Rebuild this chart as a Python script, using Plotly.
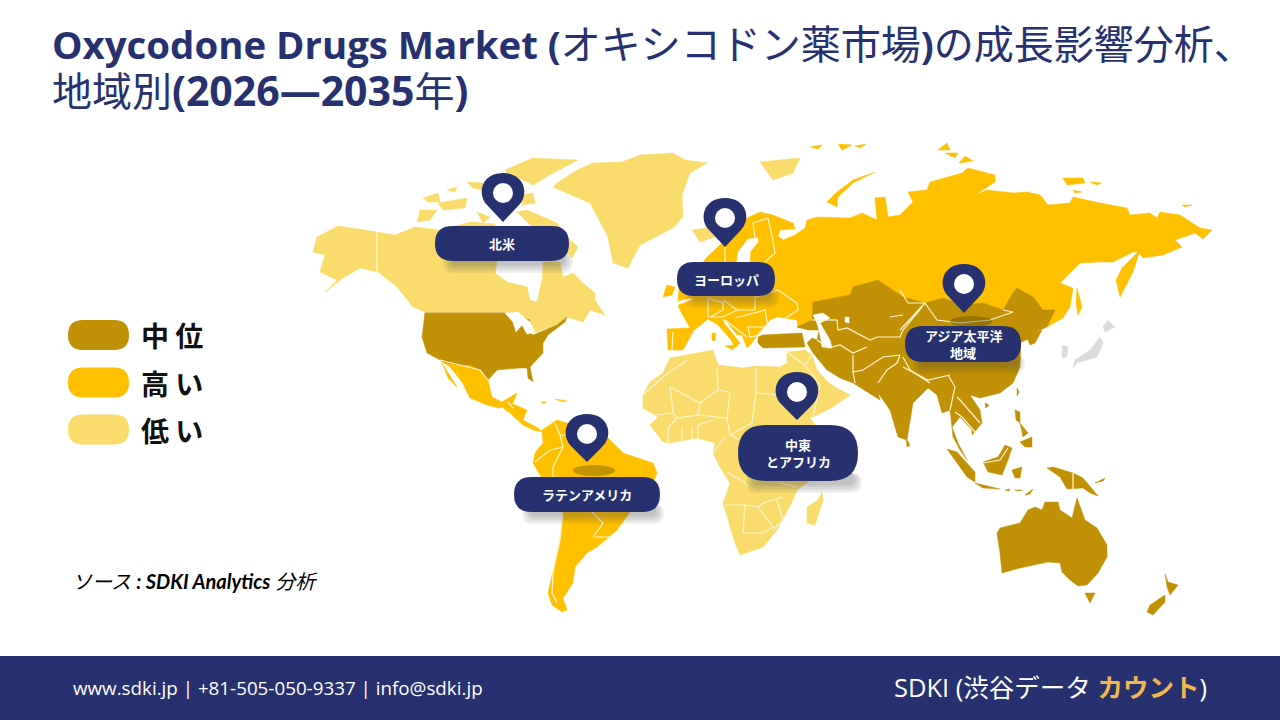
import plotly.graph_objects as go

# outlines, in picture units (x right, y down)
alaska = [(313,252),(317,237),(338,226),(377,232),(377,272),(360,268),(343,278),(325,292),(337,280),(320,272),(325,255)]
canada = [(377,232),(395,235),(415,227),(440,230),(470,222),(495,224),(497,262),(495,273),(507,282),(527,287),(530,300),(537,302),
          (542,280),(543,262),(560,262),(563,277),(573,273),(583,283),(595,293),(595,300),(605,315),(590,310),(583,322),(567,317),
          (557,325),(533,333),(527,330),(530,320),(513,312),(500,312),(425,312),(413,307),(397,287),(378,272)]
arctic_1 = [(423,198),(438,193),(440,202),(428,202)]
arctic_2 = [(438,203),(467,198),(465,208),(443,210)]
arctic_3 = [(447,190),(457,187),(455,192)]
arctic_4 = [(467,182),(483,183),(482,190),(473,188)]
arctic_5 = [(417,222),(420,210),(437,210),(430,220)]
arctic_6 = [(477,212),(490,217),(483,223)]
arctic_7 = [(520,195),(533,193),(535,203),(522,205)]
ellesmere = [(505,170),(533,158),(578,160),(553,173),(533,185),(523,180),(507,173)]
baffin = [(517,212),(527,210),(557,223),(570,240),(578,247),(572,258),(565,250),(550,232),(530,225)]
greenland = [(553,187),(557,183),(577,170),(593,163),(622,162),(640,155),(673,153),(685,160),(707,163),(690,173),(682,195),(683,217),
             (673,228),(640,245),(628,268),(613,263),(608,237),(597,217),(590,203)]
iceland = [(692,230),(707,228),(715,237),(700,242)]
svalbard = [(760,162),(800,158),(793,173),(773,180)]
africa = [(643,395),(650,382),(663,373),(670,358),(713,350),(718,365),(743,368),(756,366),(780,367),(787,363),(790,375),(800,405),(815,425),
          (840,432),(825,470),(797,490),(793,500),(782,520),(777,530),(763,547),(740,555),(735,543),(723,503),(730,483),(720,467),(713,453),
          (715,443),(697,438),(670,443),(663,442),(650,425),(658,417),(643,408)]
madagascar = [(822,492),(823,500),(815,525),(807,523),(807,507),(818,500)]
arabia = [(787,352),(805,350),(812,355),(817,370),(828,382),(835,387),(850,395),(833,407),(813,417),(805,418),(797,393),(787,373)]

russia_europe = [(703,262),(707,257),(720,245),(743,220),(760,212),(773,215),(793,223),(795,229),(780,230),(778,236),(783,240),(795,235),
                 (805,228),(807,220),(817,217),(850,218),(862,213),(877,220),(875,198),(885,197),(888,217),(900,215),(913,202),(908,192),
                 (927,190),(930,182),(962,173),(968,168),(995,175),(995,182),(975,195),(987,190),(1013,193),(1027,192),(1040,195),(1048,205),
                 (1070,203),(1073,197),(1100,203),(1127,208),(1130,215),(1150,213),(1157,218),(1160,212),(1180,215),(1200,228),(1212,230),
                 (1203,239),(1195,233),(1183,237),(1175,240),(1182,247),(1163,255),(1143,258),(1138,252),(1133,252),(1113,262),(1100,262),
                 (1080,263),(1060,283),(1073,288),(1070,307),(1063,318),(1047,327),(1040,320),(850,310),(820,315),(815,325),(798,328),(797,320),
                 (777,317),(770,320),(763,328),(757,335),(752,343),(747,348),(742,335),(737,335),(727,322),(722,318),(724,323),(735,337),(740,343),
                 (735,348),(731,340),(718,325),(708,319),(697,328),(694,330),(683,350),(668,350),(667,329),(690,328),(680,310),(678,305),(692,300),
                 (690,285),(700,270)]
uk = [(680,270),(695,270),(695,297),(678,301)]
ireland = [(663,297),(667,285),(675,287),(672,295)]
sardinia = [(712,333),(716,333),(715,341),(712,340)]
sicily = [(725,346),(735,345),(733,350)]
novaya_zemlya = [(875,172),(853,180),(837,192),(827,202),(837,207),(838,197),(853,183)]
severnaya_1 = [(938,150),(947,143),(950,150)]
severnaya_2 = [(945,153),(958,153),(955,158)]
severnaya_3 = [(959,163),(965,156),(973,161)]
franz_josef_1 = [(810,147),(822,145),(818,149)]
franz_josef_2 = [(838,144),(852,145),(842,150)]
franz_josef_3 = [(855,146),(866,144),(860,148)]
siberia_isle_1 = [(1063,178),(1083,178),(1085,183),(1067,185)]
siberia_isle_2 = [(1090,182),(1102,183),(1097,185)]
siberia_isle_3 = [(1073,190),(1082,192),(1075,193)]
wrangel = [(1182,205),(1192,205),(1185,207)]
kamchatka = [(1140,250),(1133,272),(1120,297),(1116,280),(1122,268)]
sakhalin = [(1077,288),(1082,307),(1078,315),(1076,303)]
mexico = [(440,360),(460,365),(470,365),(480,370),(488,380),(492,397),(502,402),(517,393),(513,403),(505,407),(498,408),(487,405),(470,398),(462,382),(450,367)]
baja = [(442,363),(457,387),(448,378)]
central_america = [(503,408),(508,402),(527,410),(523,420),(538,428),(542,432),(533,430),(523,425),(510,413)]
south_america = [(542,430),(557,420),(567,423),(607,437),(623,453),(653,463),(657,473),(650,490),(630,512),(617,530),(597,547),(587,553),(575,567),
                 (573,583),(563,598),(567,610),(562,612),(552,605),(548,593),(553,570),(560,540),(563,513),(553,497),(533,463),(535,453),(543,443)]
cuba = [(555,399),(567,401),(563,402)]
hispaniola = [(541,402),(546,402),(544,404)]

usa = [(425,312),(500,312),(513,312),(530,320),(527,330),(533,335),(557,325),(567,317),(565,322),(548,335),(543,343),(543,353),(530,367),(533,382),(528,378),
       (527,368),(520,368),(497,370),(488,380),(480,370),(470,365),(460,365),(443,362),(440,360),(427,353),(422,337),(424,320)]
central_asia = [(813,302),(850,295),(853,287),(878,280),(903,297),(925,303),(943,298),(963,305),(983,303),(1003,310),(1013,293),(1017,288),(1033,297),(1043,310),
                (1055,310),(1047,327),(1035,332),(1042,330),(1035,343),(1030,345),(1028,340),(1021,343),(1020,367),(1013,383),(1000,393),(980,398),(970,395),(980,410),
                (982,423),(972,435),(972,430),(960,417),(952,427),(958,443),(967,460),(960,450),(953,437),(950,410),(942,413),(937,395),(928,388),(913,403),(907,440),
                (898,437),(890,410),(878,393),(880,400),(853,383),(840,378),(827,370),(813,353),(807,343),(812,338),(817,340),(819,330),(808,330),(797,327),(812,320)]
turkey = [(758,337),(762,335),(802,333),(805,347),(763,348),(758,343)]
sri_lanka = [(906,438),(910,445),(907,447)]
sumatra = [(947,449),(957,452),(975,472),(975,482),(967,477)]
java = [(975,483),(1000,489),(983,488)]
borneo = [(983,462),(998,457),(1005,445),(1012,448),(1008,460),(1002,475),(988,472)]
sulawesi = [(1012,470),(1022,467),(1020,478),(1015,478)]
luzon = [(1015,410),(1020,412),(1020,423),(1016,420)]
mindanao = [(1020,442),(1032,437),(1032,447),(1025,447)]
visayas = [(1020,423),(1028,433),(1023,437)]
taiwan = [(1017,388),(1019,392),(1017,396)]
hainan = [(985,403),(989,405),(986,408)]
new_guinea = [(1047,468),(1053,467),(1063,470),(1073,473),(1083,478),(1098,496),(1090,493),(1083,488),(1067,489),(1060,477)]
new_britain = [(1095,483),(1105,478),(1103,481)]
sunda_1 = [(1005,490),(1010,489),(1009,491)]
sunda_2 = [(1015,490),(1022,490),(1019,491)]
sunda_3 = [(1025,495),(1033,489),(1030,494)]
australia = [(997,533),(1000,528),(1020,523),(1028,510),(1035,507),(1042,510),(1045,502),(1058,502),(1060,510),(1072,518),(1077,498),(1085,520),(1097,528),
             (1107,545),(1107,557),(1098,573),(1087,585),(1078,586),(1070,580),(1062,572),(1060,563),(1048,562),(1020,568),(1002,573),(1000,553)]
tasmania = [(1085,593),(1095,593),(1090,603)]
nz_south = [(1165,595),(1165,602),(1153,615),(1147,612),(1150,605)]
nz_north = [(1165,574),(1168,582),(1178,585),(1170,595),(1167,587)]

honshu = [(1100,337),(1103,343),(1097,357),(1077,363),(1073,368),(1075,360),(1090,350),(1098,340)]
hokkaido = [(1103,327),(1108,320),(1115,327),(1105,332)]
south_korea = [(1062,345),(1068,347),(1067,357),(1062,358)]

baltic = [(758,238),(748,239),(738,252),(737,262),(745,275),(750,262),(750,252),(758,242)]
caspian = [(813,315),(823,313),(830,318),(820,323),(830,340),(832,348),(822,347),(820,335),(817,323)]
aral = [(845,317),(849,317),(849,323),(845,322)]
great_lakes = [(505,313),(518,312),(530,322),(535,332),(527,334),(522,325),(516,332),(513,322)]

low_land = [alaska, canada, arctic_1, arctic_2, arctic_3, arctic_4, arctic_5, arctic_6, arctic_7, ellesmere, baffin, greenland,
            iceland, svalbard, africa, madagascar, arabia]
high_land = [russia_europe, uk, ireland, sardinia, sicily, novaya_zemlya, severnaya_1, severnaya_2, severnaya_3, franz_josef_1,
             franz_josef_2, franz_josef_3, siberia_isle_1, siberia_isle_2, siberia_isle_3, wrangel, kamchatka, sakhalin, mexico, baja,
             central_america, south_america, cuba, hispaniola]
mid_land = [usa, central_asia, turkey, sri_lanka, sumatra, java, borneo, sulawesi, luzon, mindanao, visayas, taiwan, hainan, new_guinea,
            new_britain, sunda_1, sunda_2, sunda_3, australia, tasmania, nz_south, nz_north]
no_data_land = [honshu, hokkaido, south_korea]
water = [baltic, caspian, aral, great_lakes]

# border lines between countries, one list per continent
borders_america = [[(377,232),(377,272)], [(425,312),(500,312),(513,312)], [(440,360),(460,365),(480,370),(488,380)],
                   [(555,423),(560,435),(563,447),(553,467),(553,477)], [(535,462),(550,450),(563,447)], [(560,435),(575,435),(590,440)],
                   [(563,513),(560,540),(553,573),(552,593),(557,603)], [(592,512),(603,523),(593,537)], [(595,537),(610,537),(602,547)],
                   [(553,477),(575,478),(592,512)], [(508,402),(513,408)]]
borders_africa = [[(756,368),(756,393),(780,395)], [(717,367),(718,390),(730,392)], [(756,393),(752,423)], [(670,387),(700,403),(718,390)],
                  [(663,377),(687,360)], [(663,377),(643,395)], [(670,387),(673,413),(655,415)], [(700,403),(698,415),(677,418),(673,413)],
                  [(730,392),(727,418),(698,415)], [(668,428),(668,442)], [(682,428),(682,442)], [(692,427),(692,440)], [(698,425),(698,438)],
                  [(677,418),(668,428)], [(698,425),(713,420)], [(727,418),(730,435),(752,423)], [(713,453),(725,437)], [(727,472),(745,483),(748,487)],
                  [(725,505),(745,505),(743,533)], [(745,505),(758,507),(773,527),(763,533),(743,533)], [(758,507),(763,503),(783,497)],
                  [(777,500),(783,520),(773,530)], [(780,483),(797,487)], [(730,435),(740,440)], [(787,352),(805,365),(812,355)],
                  [(805,365),(820,385),(813,417)]]
borders_europe = [[(725,247),(725,262)], [(753,223),(755,238)], [(753,223),(768,218)], [(768,218),(773,240),(775,253),(765,262)],
                  [(778,290),(797,303),(798,310),(783,320)], [(755,297),(755,310),(737,310),(723,300)], [(708,298),(723,303),(723,310),(710,317)],
                  [(708,298),(708,318)], [(710,317),(723,317),(737,310)], [(735,318),(765,310),(768,327),(748,327),(750,337),(768,333)],
                  [(725,320),(747,337)], [(673,332),(672,350)], [(755,297),(778,290)]]
borders_asia = [[(837,320),(838,330),(847,328),(870,340),(877,337),(900,337),(903,330),(922,307)], [(828,348),(840,345),(853,353),(867,347)],
                [(853,355),(853,372),(863,370),(883,357),(900,355)], [(853,372),(855,383)], [(878,383),(887,370),(897,363),(900,355)],
                [(903,357),(910,370),(930,383)], [(925,303),(937,320),(960,323),(990,320),(1013,312),(1003,310)], [(900,290),(908,303),(925,303),(907,322),(900,330)],
                [(903,367),(928,380),(950,375)], [(948,375),(955,387),(950,410)], [(957,397),(960,400),(980,423)], [(955,412),(962,417),(975,432)],
                [(805,333),(807,347)], [(812,320),(837,320)], [(1073,473),(1073,492)], [(890,317),(903,315)], [(983,463),(1000,460),(1008,448)],
                [(817,340),(828,348)], [(1021,343),(1028,340)]]
all_borders = borders_america + borders_africa + borders_europe + borders_asia

# legend
legend_labels = ["中 位", "高 い", "低 い"]
legend_colors = ["#C09104", "#FFC000", "#F9DC6B"]
legend_rows = [335, 382.5, 429.5]

# map labels and pins: box left, right, top, bottom, then the pin head and its tip
label_lines = [["北米"], ["ヨーロッパ"], ["アジア太平洋", "地域"], ["中東", "とアフリカ"], ["ラテンアメリカ"]]
label_left = [435, 677, 905, 738, 514]
label_right = [569, 775, 1021, 858, 660]
label_top = [226, 262, 326, 425, 477]
label_bottom = [261, 296, 362, 481, 512]
pin_x = [503, 725, 964, 797, 587]
pin_y = [193, 218, 284, 392, 434]
pin_tip_y = [222, 247, 313, 420, 462]
pin_has_shadow = [False, False, True, False, True]

CJK_BIG = '<span style="font-size:40px">{}</span>'
title_line_1 = "<b>Oxycodone Drugs Market (</b>" + CJK_BIG.format("オキシコドン薬市場") + "<b>)</b>" + CJK_BIG.format("の成長影響分析、")
title_line_2 = CJK_BIG.format("地域別") + "<b>(2026—2035</b>" + CJK_BIG.format("年") + "<b>)</b>"
source_text = "<i>ソース</i> <i><b>: SDKI Analytics</b> 分析</i>"
footer_contact = "www.sdki.jp | +81-505-050-9337 | info@sdki.jp"
footer_brand = 'SDKI (渋谷データ <span style="color:#F2B84B"><b>カウント</b></span>)'

NAVY = "#27316F"
CJK = "Open Sans, Noto Sans CJK JP, sans-serif"


def round_box(x0, x1, y0, y1):
    r = (y1 - y0) / 2
    return (f"M {x0+r},{y0} L {x1-r},{y0} Q {x1},{y0} {x1},{y0+r} Q {x1},{y1} {x1-r},{y1} "
            f"L {x0+r},{y1} Q {x0},{y1} {x0},{y0+r} Q {x0},{y0} {x0+r},{y0} Z")


def pin_path(x, y, tip):
    return (f"M {x},{tip} L {x-15},{y+13} C {x-27},{y+2} {x-22},{y-20} {x},{y-20} "
            f"C {x+22},{y-20} {x+27},{y+2} {x+15},{y+13} Z")


def add_land(fig, outlines, color):
    xs, ys = [], []
    for outline in outlines:
        xs += [p[0] for p in outline] + [outline[0][0], None]
        ys += [p[1] for p in outline] + [outline[0][1], None]
    fig.add_trace(go.Scatter(x=xs, y=ys, mode="lines", fill="toself", fillcolor=color,
                             line=dict(color=color, width=0.5), hoverinfo="skip"))


def add_box(fig, path, color, opacity=1):
    fig.add_shape(type="path", path=path, xref="x", yref="y", fillcolor=color, opacity=opacity, line_width=0)


fig = go.Figure()
add_land(fig, low_land, "#F9DC6B")
add_land(fig, high_land, "#FFC000")
add_land(fig, mid_land, "#C09104")
add_land(fig, no_data_land, "#DCDCDC")
add_land(fig, water, "#FFFFFF")

border_x, border_y = [], []
for line in all_borders:
    border_x += [p[0] for p in line] + [None]
    border_y += [p[1] for p in line] + [None]
fig.add_trace(go.Scatter(x=border_x, y=border_y, mode="lines", line=dict(color="#FFF3D0", width=1.2), hoverinfo="skip"))

# soft shadows below the labels and pins
for i in range(len(label_lines)):
    for grow in [0, 2, 4, 6, 8]:
        add_box(fig, round_box(label_left[i] + 8 + grow, label_right[i] + 4 - grow, label_bottom[i] - 8, label_bottom[i] + 12 - grow), "#505050", 0.08)
    if pin_has_shadow[i]:
        fig.add_shape(type="circle", xref="x", yref="y", x0=pin_x[i] - 14, x1=pin_x[i] + 28, y0=pin_tip_y[i] + 3, y1=pin_tip_y[i] + 14,
                      fillcolor="#504000", opacity=0.35, line_width=0)

for i in range(len(label_lines)):
    add_box(fig, round_box(label_left[i], label_right[i], label_top[i], label_bottom[i]), NAVY)
    add_box(fig, pin_path(pin_x[i], pin_y[i], pin_tip_y[i]), NAVY)
    fig.add_shape(type="circle", xref="x", yref="y", x0=pin_x[i] - 10, x1=pin_x[i] + 10, y0=pin_y[i] - 10, y1=pin_y[i] + 10,
                  fillcolor="white", line_width=0)
    mid_y = (label_top[i] + label_bottom[i]) / 2
    for n, text in enumerate(label_lines[i]):
        fig.add_annotation(x=(label_left[i] + label_right[i]) / 2, y=mid_y + 17.5 * (n - (len(label_lines[i]) - 1) / 2), text=f"<b>{text}</b>",
                           showarrow=False, font=dict(family="Noto Sans CJK JP", size=13, color="white"))

for label, color, row in zip(legend_labels, legend_colors, legend_rows):
    add_box(fig, round_box(68, 129, row - 15, row + 15), color)
    fig.add_annotation(x=139, y=row, text=f"<b>{label}</b>", xanchor="left", showarrow=False,
                       font=dict(family="Noto Sans CJK JP", size=28, color="#111111"))

# footer band
fig.add_shape(type="rect", xref="x", yref="y", x0=0, x1=1280, y0=656, y1=720, fillcolor=NAVY, line_width=0)
fig.add_annotation(x=71, y=688, text=footer_contact, xanchor="left", showarrow=False,
                   font=dict(family="Open Sans", size=18.8, color="white"))
fig.add_annotation(x=892, y=687, text=footer_brand, xanchor="left", showarrow=False,
                   font=dict(family="Open Sans, Noto Sans CJK JP", size=25.5, color="white"))

fig.add_annotation(x=50, y=43, text=title_line_1, xanchor="left", showarrow=False, font=dict(family=CJK, size=38.4, color=NAVY))
fig.add_annotation(x=50, y=90, text=title_line_2, xanchor="left", showarrow=False, font=dict(family=CJK, size=41, color=NAVY))
fig.add_annotation(x=70, y=581, text=source_text, xanchor="left", showarrow=False, font=dict(family="Lato, Noto Sans CJK JP", size=20, color="black"))

fig.update_layout(width=1280, height=720, margin=dict(l=0, r=0, t=0, b=0), showlegend=False,
                  plot_bgcolor="white", paper_bgcolor="white",
                  xaxis=dict(range=[0, 1280], visible=False, fixedrange=True),
                  yaxis=dict(range=[720, 0], visible=False, fixedrange=True))
fig.write_html("out.html", config={"displayModeBar": False}, post_script="document.body.style.margin='0';")
